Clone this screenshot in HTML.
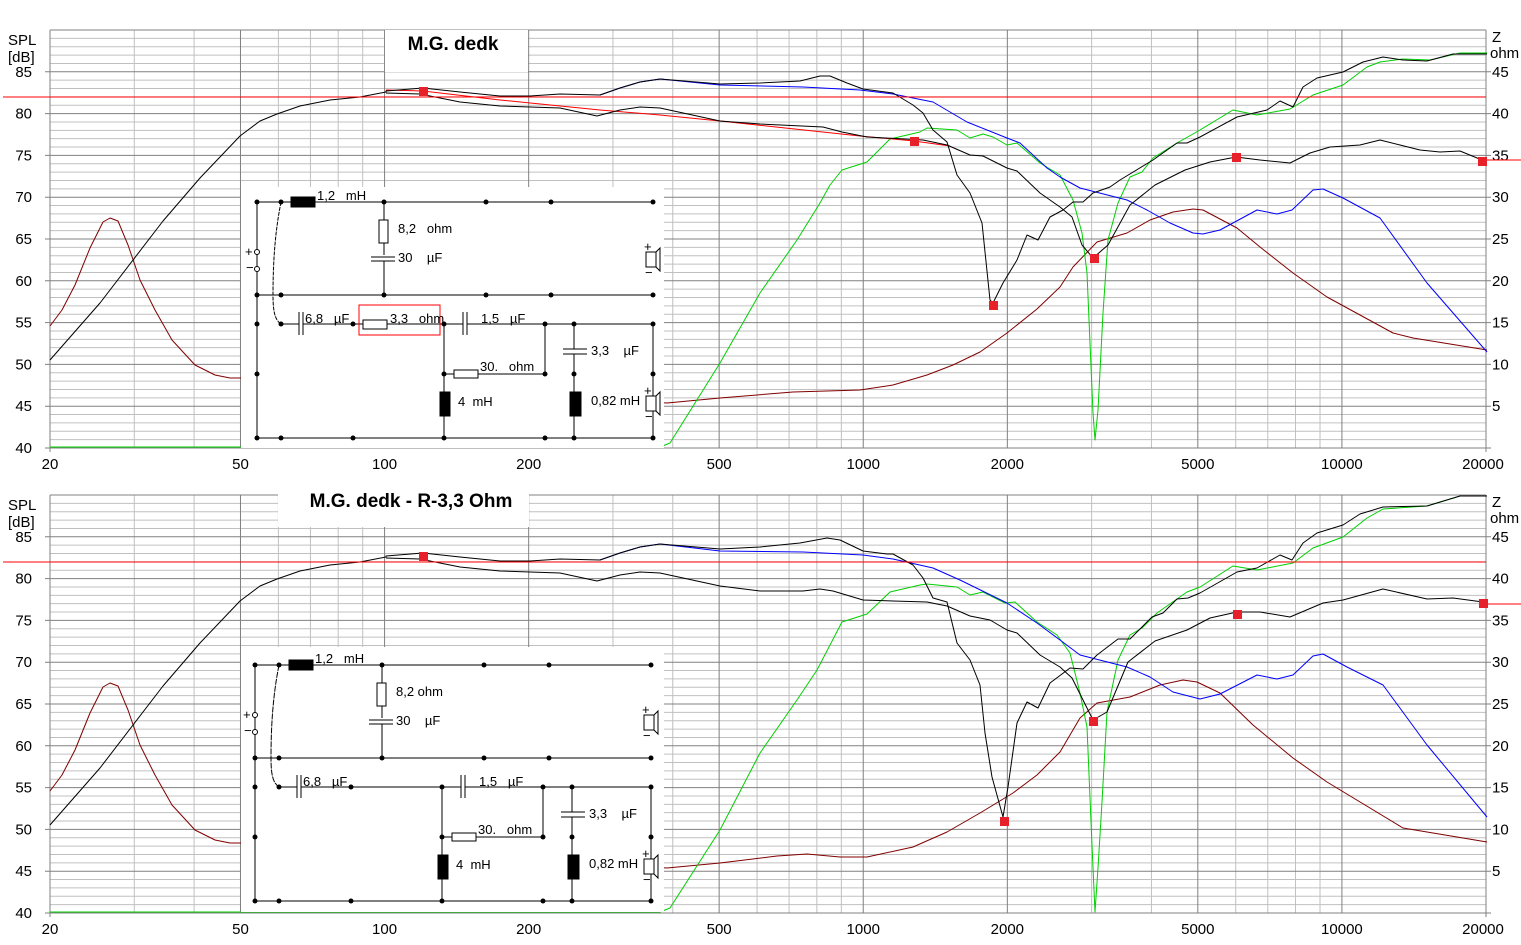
<!DOCTYPE html>
<html><head><meta charset="utf-8"><style>
body{margin:0;background:#fff}
svg{display:block;font-family:"Liberation Sans",sans-serif}
text{white-space:pre}
</style></head><body>
<svg id="s" width="1521" height="945" xmlns="http://www.w3.org/2000/svg" xml:space="preserve">
<rect width="1521" height="945" fill="#fff"/>
<g id="g1"></g>
<g id="g2" transform="translate(0,465)"></g>
</svg>
<script>
var NS="http://www.w3.org/2000/svg";
function el(p,t,a,txt){var e=document.createElementNS(NS,t);for(var k in a)e.setAttribute(k,a[k]);if(txt!==undefined)e.textContent=txt;p.appendChild(e);return e;}
function X(f){return 50+478.67*Math.log10(f/20);}
function Y(db){return 448-(db-40)*8.36;}
function grid(g){
  var i;
  for(i=41;i<90;i++){ if(i%5) el(g,'line',{x1:50,x2:1486,y1:Y(i),y2:Y(i),stroke:'#c0c0c0','stroke-width':1});}
  var fs=[];[10,100,1000,10000].forEach(function(d){for(var k=1;k<10;k++)fs.push(k*d);});
  fs.forEach(function(f){if(f<=20||f>=20000)return;var dark=[50,100,200,500,1000,2000,5000,10000].indexOf(f)>=0;
    el(g,'line',{x1:X(f),x2:X(f),y1:30,y2:448,stroke:dark?'#808080':'#c0c0c0','stroke-width':1});});
  for(i=45;i<90;i+=5){el(g,'line',{x1:45,x2:1491,y1:Y(i),y2:Y(i),stroke:'#808080','stroke-width':1});}
  el(g,'line',{x1:50,x2:1486,y1:30,y2:30,stroke:'#808080'});
  el(g,'line',{x1:45,x2:1491,y1:448,y2:448,stroke:'#808080'});
  el(g,'line',{x1:50,x2:50,y1:30,y2:452,stroke:'#808080'});
  el(g,'line',{x1:1486,x2:1486,y1:30,y2:452,stroke:'#808080'});
  el(g,'text',{x:8,y:45,'font-size':15},'SPL');
  el(g,'text',{x:8,y:62,'font-size':15},'[dB]');
  for(i=40;i<=85;i+=5){el(g,'text',{x:32,y:Y(i)+5,'font-size':15,'text-anchor':'end'},String(i));}
  el(g,'text',{x:1492,y:42,'font-size':15},'Z');
  el(g,'text',{x:1490,y:58,'font-size':15},'ohm');
  for(i=5;i<=45;i+=5){el(g,'text',{x:1492,y:448-i*8.36+5,'font-size':15},String(i));}
  [20,50,100,200,500,1000,2000,5000,10000,20000].forEach(function(f){
    var x=X(f); if(f==20000){x=1483;}
    el(g,'text',{x:x,y:469,'font-size':15,'text-anchor':'middle'},String(f));});
}
grid(document.getElementById('g1'));grid(document.getElementById('g2'));
function pl(g,pts,col,w){el(g,'polyline',{points:pts,fill:'none',stroke:col,'stroke-width':w||1,'stroke-linejoin':'round'});}
function mk(g,list){list.forEach(function(p){el(g,'rect',{x:p[0]-4,y:p[1]-4,width:9,height:9,fill:'#e8202a'});});}

var leftBlack="50,360 100,303 163,221 200,178 220,157 240,136 260,121 277,114 300,106 330,100 360,97 386,92 ";
var upLeft="386,91 423,88 460,92 500,96 530,96 560,94 600,95 620,88 640,82 660,79 ";
var lowLeft="386,93 420,94 460,102 500,106 530,107 560,108 597,116 620,110 640,107 660,108 ";
var brownLeft="50,326 62,310 75,285 90,248 103,222 110,218 118,221 128,245 140,280 155,310 172,340 195,365 215,375 230,378 241,378 ";

function chart(g,top){
  if(top){
    pl(g,brownLeft+"667,403 720,398 793,392 860,390 893,385 927,375 953,365 980,352 1007,333 1037,309 1060,287 1073,267 1097,242 1127,233 1150,220 1173,212 1193,209 1203,210 1237,228 1260,247 1293,273 1327,297 1393,333 1413,338 1487,350",'#800000');
  } else {
    pl(g,brownLeft+"667,403 720,398 777,391 807,389 840,392 867,392 913,382 947,367 980,348 1013,328 1037,310 1060,287 1080,253 1097,238 1130,232 1160,220 1183,215 1197,217 1220,228 1253,260 1293,293 1327,317 1403,363 1487,377",'#800000');
  }
  if(top){
    pl(g,"50,447 660,447 670,443 720,363 760,293 797,240 820,203 830,185 842,170 867,162 890,139 920,132 927,128 957,130 970,138 983,134 993,137 1007,145 1017,143 1040,163 1060,175 1073,200 1082,233 1087,273 1093,413 1095,440 1098,410 1103,313 1108,240 1118,203 1130,177 1142,172 1153,158 1177,143 1200,130 1233,110 1257,115 1290,109 1313,95 1343,85 1367,67 1380,62 1403,59 1430,60 1460,53 1487,53",'#00d000');
  } else {
    pl(g,"50,447 660,447 670,443 720,365 760,288 797,235 817,205 842,157 867,149 890,127 920,120 927,119 957,122 970,130 983,127 1005,138 1015,137 1037,157 1057,170 1070,188 1080,228 1087,262 1092,380 1095,447 1098,403 1102,337 1107,247 1118,195 1130,170 1142,163 1157,148 1187,127 1200,122 1233,101 1257,105 1293,98 1313,83 1343,72 1367,53 1383,44 1427,41 1460,31 1487,31",'#00d000');
  }
  if(top){
    pl(g,"600,95 620,88 640,82 660,79 720,85 803,87 860,90 893,94 933,102 967,122 1007,138 1020,143 1047,168 1060,177 1080,188 1127,200 1147,210 1170,223 1193,233 1203,234 1220,230 1257,210 1277,214 1292,210 1313,190 1323,189 1343,198 1380,218 1427,283 1487,352",'#0000ff');
  } else {
    pl(g,"600,95 620,88 640,82 660,79 720,86 803,87 863,90 893,94 933,103 960,115 1007,138 1037,158 1060,175 1080,190 1127,202 1150,212 1173,227 1200,234 1220,229 1257,210 1277,214 1293,210 1313,191 1323,189 1347,202 1383,220 1427,280 1487,352",'#0000ff');
  }
  if(top) pl(g,"386,90 423,91 500,100 600,110 660,115 720,121 860,136 914,141 950,146",'#ff0000');
  if(top){
    pl(g,leftBlack+upLeft+"720,84 760,83 800,81 820,76 830,76 847,83 863,89 893,93 913,105 923,113 933,130 947,142 957,175 970,193 982,223 990,300 993,303 1003,283 1017,260 1027,235 1038,240 1050,217 1063,210 1073,202 1083,202 1093,193 1110,187 1120,180 1153,160 1177,143 1187,143 1200,137 1237,117 1267,110 1280,101 1293,107 1303,87 1317,78 1343,72 1363,62 1383,57 1403,60 1427,61 1453,54 1487,54",'#000');
    pl(g,lowLeft+"720,121 760,124 823,127 842,132 867,137 923,140 947,145 970,155 983,156 1007,168 1017,171 1040,193 1060,207 1072,217 1082,245 1093,258 1108,245 1130,205 1155,185 1185,170 1210,162 1236,157 1260,160 1290,163 1310,153 1330,147 1360,145 1380,140 1400,145 1420,150 1440,152 1460,151 1482,160",'#000');
  } else {
    pl(g,leftBlack+upLeft+"720,84 760,82 800,78 827,73 840,75 863,86 887,89 893,89 913,100 923,113 933,133 947,137 957,178 970,195 980,220 985,268 992,312 1003,352 1008,322 1017,258 1027,237 1038,243 1050,218 1070,203 1083,204 1097,190 1118,174 1130,174 1152,152 1163,148 1177,134 1188,133 1200,128 1237,107 1257,103 1280,90 1292,95 1303,78 1317,68 1343,60 1360,49 1383,42 1427,41 1460,31 1487,31",'#000');
    pl(g,lowLeft+"720,121 760,126 803,126 820,124 833,126 863,135 893,136 927,137 947,141 970,151 990,155 1007,165 1017,168 1040,190 1060,202 1072,213 1093,255 1107,247 1128,197 1155,176 1187,165 1210,153 1237,147 1260,147 1290,152 1323,138 1343,135 1383,124 1427,134 1453,133 1483,137",'#000');
  }
  el(g,'line',{x1:3,x2:1486,y1:97,y2:97,stroke:'#ff0000'});
  el(g,'line',{x1:1486,x2:1521,y1:top?160:139,y2:top?160:139,stroke:'#ff0000'});
  if(top) mk(g,[[423,91],[914,141],[993,305],[1094,258],[1236,157],[1482,161]]);
  else mk(g,[[423,91],[1004,356],[1093,256],[1237,149],[1483,138]]);
}
var g1=document.getElementById('g1'),g2=document.getElementById('g2');
chart(g1,true);chart(g2,false);

el(g1,'rect',{x:385,y:30,width:143,height:42,fill:'#fff'});
el(g1,'text',{x:453,y:50,'font-size':19,'font-weight':'bold','text-anchor':'middle'},'M.G. dedk');
el(g2,'rect',{x:278,y:21,width:251,height:41,fill:'#fff'});
el(g2,'text',{x:411,y:42,'font-size':19,'font-weight':'bold','text-anchor':'middle'},'M.G. dedk - R-3,3 Ohm');

function circuit(ox,oy,top,boxY,boxH){
  var s=document.getElementById('s');
  el(s,'rect',{x:241,y:boxY,width:423,height:boxH,fill:'#fff'});
  var g=el(s,'g',{transform:'translate('+ox+','+oy+')',stroke:'#000','stroke-width':1,fill:'none'});
  function L(x1,y1,x2,y2){el(g,'line',{x1:x1,y1:y1,x2:x2,y2:y2});}
  function D(x,y){el(g,'circle',{cx:x,cy:y,r:2.5,fill:'#000',stroke:'none'});}
  function T(x,y,t){el(g,'text',{x:x,y:y,'font-size':13,fill:'#000',stroke:'none'},t);}
  L(0,0,396,0);L(0,93,396,93);L(24,122,396,122);L(0,236,396,236);L(0,0,0,236);
  [0,24,127,229,294,396].forEach(function(x){D(x,0);D(x,93);});
  [0,24,96,187,288,317,396].forEach(function(x){D(x,236);});
  [24,96,187,288,317,396].forEach(function(x){D(x,122);});
  D(0,122);D(0,172);D(187,172);D(288,172);D(317,172);D(396,172);
  el(g,'rect',{x:34,y:-5,width:24,height:10,fill:'#000'});T(60,-2,'1,2   mH');
  L(127,0,127,93);el(g,'rect',{x:122,y:18,width:9,height:23,fill:'#fff'});
  el(g,'rect',{x:114,y:53,width:24,height:6,fill:'#fff',stroke:'none'});L(114,55,138,55);L(114,59,138,59);
  T(141,31,top?'8,2   ohm':'8,2 ohm');T(141,60,'30    µF');
  el(g,'rect',{x:389,y:50,width:10,height:15,fill:'#fff'});el(g,'polyline',{points:'399,50 403,46 403,69 399,65'});
  T(387,49,'+');T(388,75,'−');
  el(g,'circle',{cx:0,cy:50,r:2.5,fill:'#fff'});el(g,'circle',{cx:0,cy:67,r:2.5,fill:'#fff'});
  T(-12,54,'+');T(-11,70,'−');
  el(g,'path',{d:'M24,0 C18,30 16,60 16,93 C16,110 18,118 24,122','stroke-dasharray':top?'4,1':'6,1'});
  el(g,'rect',{x:42,y:115,width:4,height:14,fill:'#fff',stroke:'none'});L(42,110,42,133);L(46,110,46,133);T(48,121,'6,8   µF');
  if(top){
    el(g,'rect',{x:106,y:118,width:24,height:9,fill:'#fff'});
    el(g,'rect',{x:102,y:103,width:81,height:30,stroke:'#ff0000'});T(133,121,'3,3   ohm');
  }
  el(g,'rect',{x:206,y:115,width:4,height:14,fill:'#fff',stroke:'none'});L(206,110,206,133);L(210,110,210,133);T(224,121,'1,5   µF');
  L(187,122,187,236);L(187,172,288,172);L(288,122,288,172);
  el(g,'rect',{x:197,y:168,width:24,height:8,fill:'#fff'});T(223,169,'30.   ohm');
  el(g,'rect',{x:183,y:190,width:10,height:24,fill:'#000'});T(201,204,'4  mH');
  L(317,122,317,236);el(g,'rect',{x:306,y:147,width:24,height:5,fill:'#fff',stroke:'none'});L(306,147,330,147);L(306,152,330,152);T(334,153,'3,3    µF');
  el(g,'rect',{x:313,y:190,width:11,height:24,fill:'#000'});T(334,203,'0,82 mH');
  L(396,122,396,236);
  el(g,'rect',{x:389,y:194,width:10,height:15,fill:'#fff'});el(g,'polyline',{points:'399,194 403,190 403,213 399,209'});
  T(387,193,'+');T(388,219,'−');
}
circuit(257,202,true,187,261);
circuit(255,665,false,647,265);
</script>
</body></html>
